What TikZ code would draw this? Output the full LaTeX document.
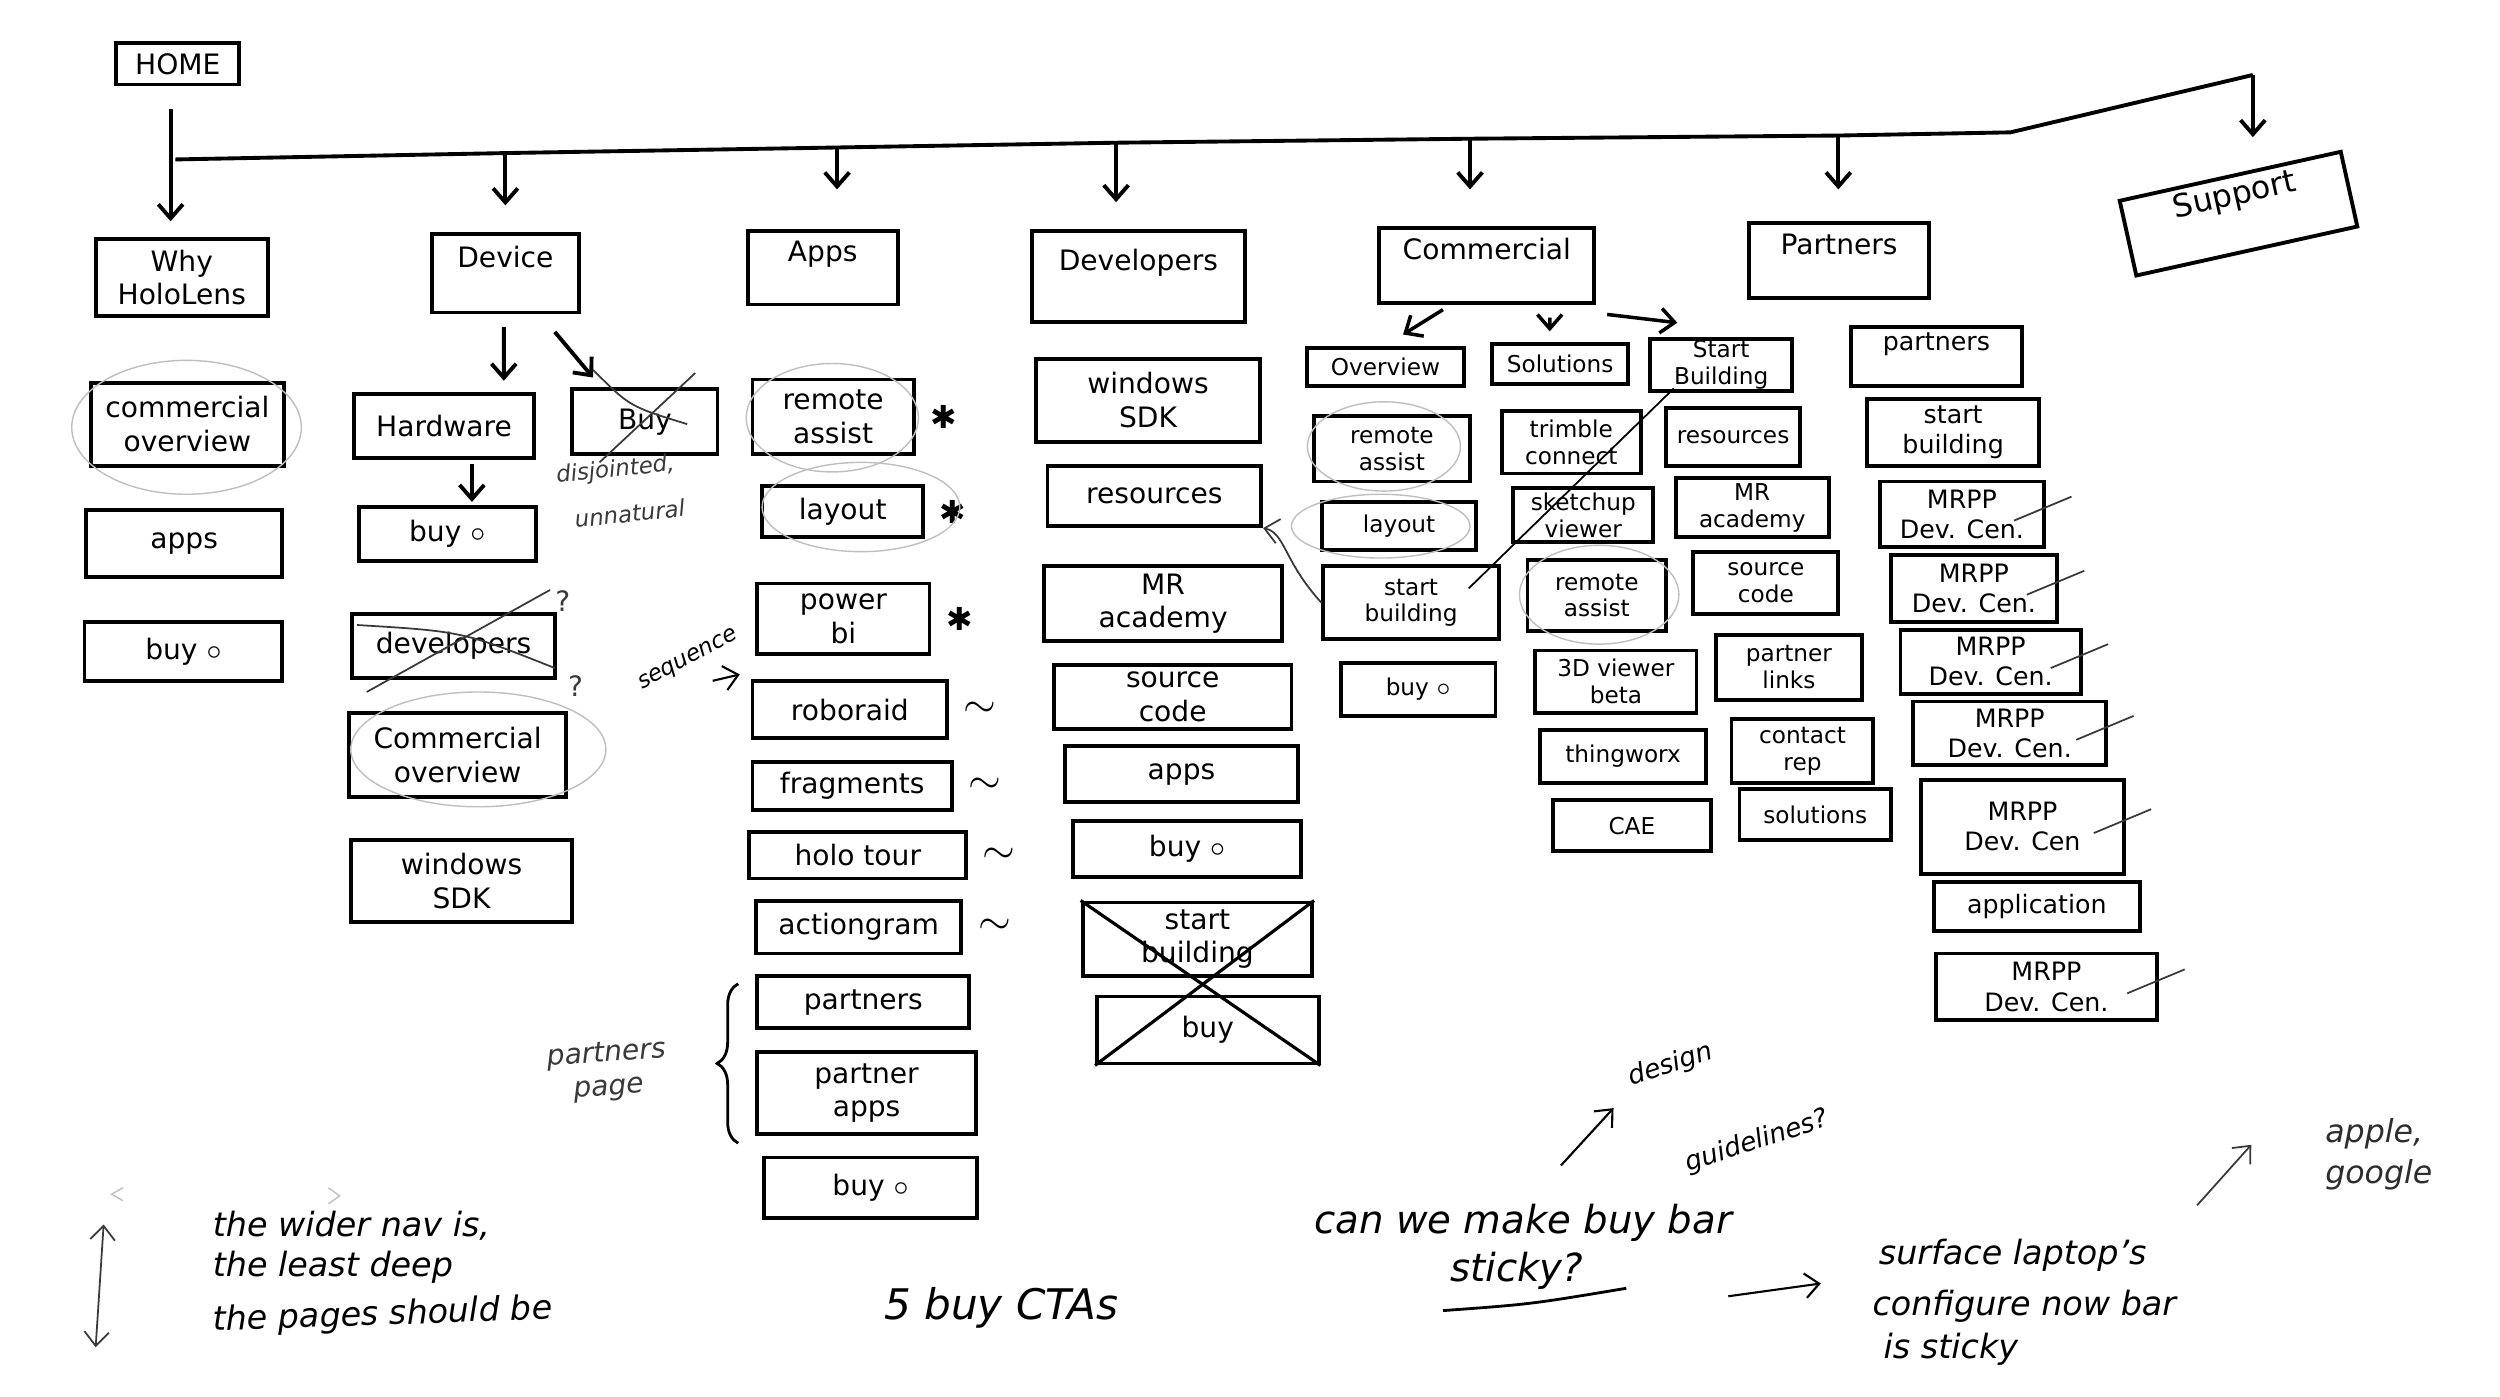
\documentclass[tikz,border=0pt]{standalone}
\usepackage{fontspec}
\setmainfont{DejaVu Sans}
\usetikzlibrary{arrows.meta,calc,positioning,decorations.pathreplacing}

\def\unitpx{0.015944cm}

\begin{document}
\begin{tikzpicture}[x=\unitpx,y=-\unitpx,
  >={Straight Barb[length=4pt,width=7pt]},
  pagebox/.style={draw,line width=1.1pt,align=center,inner sep=0.5pt,font=\fontsize{8}{9.5}\selectfont},
  subbox/.style={pagebox,font=\fontsize{6.6}{7.6}\selectfont},
  link/.style={->,line width=1.1pt},
  faint/.style={gray!50,line width=0.4pt},
  pencil/.style={gray!45!black,line width=0.5pt},
  sidemark/.style={inner sep=0pt,font=\fontsize{9}{10}\selectfont},
  handnote/.style={align=left,inner sep=0pt,font=\fontsize{9.5}{11}\selectfont\itshape},
  pencilnote/.style={align=center,inner sep=0pt,text=gray!45!black,font=\fontsize{6.5}{7.5}\selectfont\itshape}]
\fill[white] (0,0) rectangle (1568,876);
\useasboundingbox (0,0) rectangle (1568,876);

% top level
\node[pagebox,minimum width=77*\unitpx,minimum height=26*\unitpx] (home) at (111.5,40) {HOME};
\foreach \nm/\cx/\cy/\w/\h/\txt in {
  why/114/174/108/48/{Why\\HoloLens},
  device/317/171.5/92/49/{Device\\\mbox{}},
  apps/516/168/94/46/{Apps\\\mbox{}},
  developers/714/173.5/134/57/{Developers\\\mbox{}},
  commercial/932.5/166.5/135/47/{Commercial\\\mbox{}},
  partners/1153.5/163.5/113/47/{Partners\\\mbox{}}}
  \node[pagebox,minimum width=\w*\unitpx,minimum height=\h*\unitpx] (\nm) at (\cx,\cy) {\txt};
\node[pagebox,rotate=12.5,minimum width=142*\unitpx,minimum height=48*\unitpx,font=\fontsize{9}{10}\selectfont] (support) at (1404,134) {Support\\[2pt]\mbox{}};

% nav bar
\coordinate (b0) at (110,100);
\coordinate (bdev) at (317,96);
\coordinate (bapps) at (525,92.5);
\coordinate (bdevs) at (700,89.5);
\coordinate (bcom) at (922,87);
\coordinate (bpar) at (1153,85);
\coordinate (bkink) at (1261,83);
\coordinate (bsup) at (1413,47);
\coordinate (supin) at (1413,86);
\draw[line width=1.1pt] (b0) -- (bdev) -- (bapps) -- (bdevs) -- (bcom) -- (bpar) -- (bkink) -- (bsup);
\draw[link] ($(home.south)+(-4.5,14)$) -- ($(why.north)+(-7,-10)$);
\draw[link] (bdev) -- ($(bdev |- device.north)+(0,-17)$);
\draw[link] (bapps) -- ($(bapps |- apps.north)+(0,-25)$);
\draw[link] (bdevs) -- ($(bdevs |- developers.north)+(0,-17)$);
\draw[link] (bcom) -- ($(bcom |- commercial.north)+(0,-23)$);
\draw[link] (bpar) -- ($(bpar |- partners.north)+(0,-20)$);
\draw[link] (bsup) -- (supin);

% why hololens
\foreach \nm/\cx/\cy/\w/\h/\txt in {
  whyco/117.5/266/121/52/{commercial\\overview},
  whyapps/115.5/341/123/42/apps,
  whybuy/115/408.5/124/37/{buy \(\circ\)}}
  \node[pagebox,minimum width=\w*\unitpx,minimum height=\h*\unitpx] (\nm) at (\cx,\cy) {\txt};

% device
\foreach \nm/\cx/\cy/\w/\h/\txt in {
  hw/278.5/267/113/40/Hardware,
  devbuy/404.5/264.5/91/41/Buy,
  hwbuy/280.5/335/111/34/{buy \(\circ\)},
  devdev/284.5/405/127/40/developers,
  devco/287/473.5/136/53/{Commercial\\overview},
  devsdk/289.5/552.5/139/51/{windows\\SDK}}
  \node[pagebox,minimum width=\w*\unitpx,minimum height=\h*\unitpx] (\nm) at (\cx,\cy) {\txt};
\draw[link] ($(device.south)+(-1,8)$) -- ($(hw.north)+(37.5,-7)$);
\draw[link] ($(device.south)+(31,11)$) -- ($(devbuy.north)+(-32.5,-6)$);
\draw[link] ($(hw.south)+(17.5,3)$) -- ($(hwbuy.north)+(15.5,-2)$);

% apps
\foreach \nm/\cx/\cy/\w/\h/\txt in {
  ra/522.5/261.5/101/47/{remote\\assist},
  lay/528.5/321/101/32/layout,
  pbi/529/388/108/44/{power\\bi},
  robo/533/445/122/36/roboraid,
  frag/534.5/493/125/30/fragments,
  holo/538/536.5/136/29/{holo tour},
  actg/538.5/581.5/129/33/actiongram,
  apar/541.5/628.5/133/33/partners,
  apapps/543.5/685.5/137/51/{partner\\apps},
  apbuy/546/745/134/38/{buy \(\circ\)}}
  \node[pagebox,minimum width=\w*\unitpx,minimum height=\h*\unitpx] (\nm) at (\cx,\cy) {\txt};
\foreach \nm in {ra,lay,pbi}
  \node[sidemark,right=4pt of \nm] (\nm-star) {✱};
\foreach \nm in {robo,frag,holo,actg}
  \node[sidemark,right=4pt of \nm,font=\fontsize{12}{12}\selectfont] (\nm-tilde) {\(\sim\)};

% developers
\foreach \nm/\cx/\cy/\w/\h/\txt in {
  dsdk/720/251/140/52/{windows\\SDK},
  dres/724/311/134/38/resources,
  dmr/729.5/378.5/149/47/{MR\\academy},
  dsrc/735.5/437/149/40/{source\\code},
  dapps/741/485.5/146/35/apps,
  dbuy/744.5/532.5/143/35/{buy \(\circ\)},
  dsb/751/589/144/46/{start\\building},
  dbuy2/757.5/646/139/42/buy}
  \node[pagebox,minimum width=\w*\unitpx,minimum height=\h*\unitpx] (\nm) at (\cx,\cy) {\txt};
\draw[line width=0.9pt] (dsb.north west) -- (dbuy2.south east);
\draw[line width=0.9pt] (dbuy2.south west) -- (dsb.north east);

% commercial
\foreach \nm/\cx/\cy/\w/\h/\txt in {
  cov/869/230/98/24/Overview,
  csol/978.5/228.5/85/25/Solutions,
  csb/1079.5/229/89/32/{Start\\Building},
  cra/873/281.5/98/41/{remote\\assist},
  clay/877.5/330/97/30/layout,
  cstart/885/378/110/46/{start\\building},
  cbuy/889.5/432.5/97/33/{buy \(\circ\)},
  trim/985.5/277.5/87/39/{trimble\\connect},
  sketch/993/323/88/34/{sketchup\\viewer},
  sra/1001.5/373.5/87/45/{remote\\assist},
  v3d/1013.5/427.5/101/39/{3D viewer\\beta},
  thing/1018/474.5/104/33/thingworx,
  cae/1023.5/518/99/32/CAE,
  sres/1087/274/84/36/resources,
  smr/1099/318.5/96/37/{MR\\academy},
  ssrc/1107.5/365.5/91/39/{source\\code},
  slinks/1122/418.5/92/41/{partner\\links},
  srep/1130.5/471/89/40/{contact\\rep},
  ssol/1138.5/511/95/32/solutions}
  \node[subbox,minimum width=\w*\unitpx,minimum height=\h*\unitpx] (\nm) at (\cx,\cy) {\txt};
\draw[link,line width=1pt] ($(commercial.south)+(-27.5,3)$) -- ($(cov.north)+(11,-7)$);
\draw[link,line width=1pt] ($(commercial.south)+(39.5,8)$) -- ($(csol.north)+(-6.5,-7)$);
\draw[link,line width=1pt] ($(commercial.south)+(75.5,6)$) -- ($(csb.north)+(-27.5,-9)$);
\draw[line width=0.5pt] ($(cstart.east)+(-20,-9)$) -- ($(csb.south west)+(16,-3)$);
\draw[pencil,->] (cstart.west) .. controls (805,352) and (806,334) .. (dres.south east);

% partners
\foreach \nm/\cx/\cy/\w/\h/\txt in {
  ppar/1214.5/223.5/107/37/{partners\\\mbox{}},
  psb/1225/271/108/42/{start\\building},
  mr1/1230.5/322.5/103/41/{MRPP\\Dev. Cen.},
  mr2/1238/369/104/42/{MRPP\\Dev. Cen.},
  mr3/1248.5/415/113/40/{MRPP\\Dev. Cen.},
  mr4/1260.5/460/121/40/{MRPP\\Dev. Cen.},
  mr5/1268.5/518.5/127/59/{MRPP\\Dev. Cen},
  papp/1277.5/568.5/129/31/application,
  mr6/1283.5/619/139/42/{MRPP\\Dev. Cen.}}
  \node[subbox,minimum width=\w*\unitpx,minimum height=\h*\unitpx,font=\fontsize{7.2}{8.6}\selectfont] (\nm) at (\cx,\cy) {\txt};
\foreach \nm in {mr1,mr2,mr3,mr4,mr5,mr6}
  \draw[pencil] ($(\nm.east)+(-20,4)$) -- ++(36,-15);

% pencil marks
\draw[faint] (117,268) ellipse [x radius=72,y radius=42];
\draw[faint] (300,470) ellipse [x radius=80,y radius=36];
\draw[faint] (522,262) ellipse [x radius=54,y radius=34];
\draw[faint] (540,318) ellipse [x radius=62,y radius=28];
\draw[faint] (868,280) ellipse [x radius=48,y radius=28];
\draw[faint] (866,330) ellipse [x radius=56,y radius=20];
\draw[faint] (1003,373) ellipse [x radius=50,y radius=31];
\draw[pencil] (372,232) .. controls (395,255) .. (431,266);
\draw[pencil] (436,234) -- (376,290);
\draw[pencil] (224,392) .. controls (290,396) .. (348,419);
\draw[pencil] (230,434) -- (345,370);
\node[pencilnote,font=\fontsize{8}{9}\selectfont] (q1) at (353,377) {?};
\node[pencilnote,font=\fontsize{8}{9}\selectfont] (q2) at (361,430) {?};
\node[pencilnote,rotate=6] (disj1) at (386,295) {disjointed,};
\node[pencilnote,rotate=6] (disj2) at (395,322) {unnatural};
\node[pencilnote,rotate=28,text=black] (seq) at (432,414) {sequence};
\coordinate (seqa) at (447,427);
\coordinate (seqb) at (464,423);
\draw[->,line width=0.6pt] (seqa) -- (seqb);
\draw[decorate,decoration={brace,amplitude=6pt},line width=0.8pt] (463,717) -- (463,617);
\node[pencilnote,rotate=4,font=\fontsize{8}{9.5}\selectfont\itshape] (ppage) at (381,672) {partners\\page};

% notes
\draw[faint] (77,745) -- (70,749) -- (77,753);
\draw[faint] (206,745) -- (213,750) -- (206,755);
\coordinate (vtop) at (65,768);
\coordinate (vbot) at (60,845);
\draw[pencil,<->] (vtop) -- (vbot);
\node[handnote,anchor=west] (n1) at (133,769) {the wider nav is,};
\node[handnote,anchor=west] (n2) at (133,795) {the least deep};
\node[handnote,anchor=west,rotate=2] (n3) at (133,829) {the pages should be};
\node[handnote,font=\fontsize{12}{14}\selectfont\itshape] (ctas) at (628,820) {5 buy CTAs};
\node[handnote,anchor=west,font=\fontsize{11}{13}\selectfont\itshape] (sticky1) at (824,767) {can we make buy bar};
\node[handnote,anchor=west,font=\fontsize{11}{13}\selectfont\itshape] (sticky2) at (909,797) {sticky?};
\draw[line width=0.8pt] (905,822) .. controls (960,818) .. (1020,808);
\coordinate (dga) at (979,731);
\coordinate (dgb) at (1012,695);
\draw[->,line width=0.6pt] (dga) -- (dgb);
\node[handnote,rotate=18,font=\fontsize{7.5}{9}\selectfont\itshape] (guide1) at (1048,668) {design};
\node[handnote,rotate=18,font=\fontsize{7.5}{9}\selectfont\itshape] (guide2) at (1102,716) {guidelines?};
\coordinate (sfa) at (1084,813);
\coordinate (sfb) at (1142,805);
\draw[->,line width=0.6pt] (sfa) -- (sfb);
\node[handnote,anchor=west] (sf1) at (1178,787) {surface laptop's};
\node[handnote,anchor=west] (sf2) at (1174,819) {configure now bar};
\node[handnote,anchor=west] (sf3) at (1181,846) {is sticky};
\coordinate (apa) at (1378,756);
\coordinate (apb) at (1412,718);
\draw[pencil,->] (apa) -- (apb);
\node[handnote,text=gray!35!black,font=\fontsize{9}{11.5}\selectfont\itshape] (apple) at (1492,724) {apple,\\google};
\end{tikzpicture}
\end{document}
